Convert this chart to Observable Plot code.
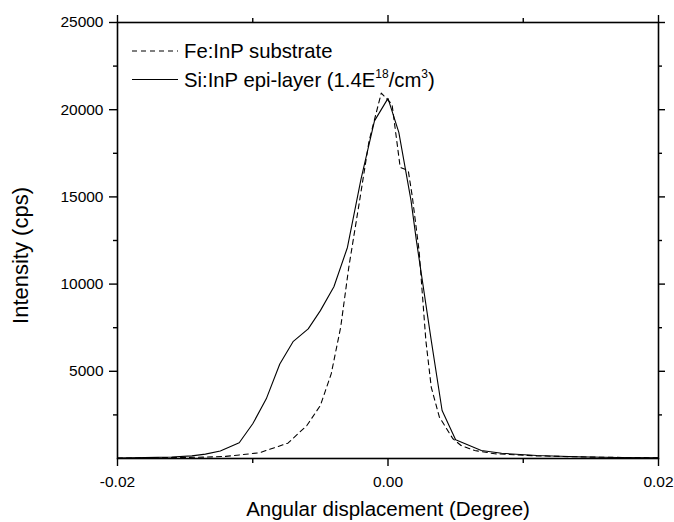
<!DOCTYPE html>
<html>
<head>
<meta charset="utf-8">
<script src="https://cdn.jsdelivr.net/npm/d3@7"></script>
<script src="https://cdn.jsdelivr.net/npm/@observablehq/plot@0.6"></script>
<style>
  html, body { margin: 0; padding: 0; background: #fff; }
  #chart svg { display: block; }
</style>
</head>
<body>
<div id="chart"></div>
<script>
// Fe:InP substrate (dashed)
const feX = [-0.020, -0.014, -0.012, -0.0095, -0.0074, -0.0060, -0.0050, -0.0042, -0.0035, -0.0029, -0.0021, -0.0014, -0.0005, 0.0003, 0.0009, 0.0015, 0.0018, 0.0023, 0.0028, 0.0032, 0.0038, 0.0048, 0.0054, 0.0064, 0.0079, 0.011, 0.015, 0.020];
const feY = [20, 70, 120, 330, 880, 1890, 3040, 4850, 7520, 10960, 14780, 18210, 20950, 20300, 16700, 16500, 15000, 11900, 6760, 4080, 2370, 1130, 745, 460, 270, 150, 80, 40];
// Si:InP epi-layer (solid)
const siX = [-0.020, -0.018, -0.016, -0.0145, -0.0135, -0.0124, -0.0110, -0.0100, -0.0090, -0.0080, -0.0070, -0.0059, -0.0050, -0.0040, -0.0030, -0.0020, -0.0010, 0.0000, 0.0008, 0.0017, 0.0021, 0.0032, 0.0040, 0.0050, 0.0069, 0.0084, 0.011, 0.014, 0.017, 0.020];
const siY = [30, 50, 90, 150, 250, 430, 900, 1990, 3420, 5420, 6720, 7430, 8480, 9850, 12100, 16000, 19360, 20650, 18700, 14800, 12490, 6760, 2750, 1070, 460, 300, 170, 100, 60, 40];

const seriesNames = ["Fe:InP substrate", "Si:InP epi-layer"];
const xTicksMajor = [-0.02, 0, 0.02];
const xTicksMinor = [-0.01, 0.01];
const yTicksMajor = [5000, 10000, 15000, 20000, 25000];
const yTicksMinor = [2500, 7500, 12500, 17500, 22500];
const xTitle = "Angular displacement (Degree)";
const yTitle = "Intensity (cps)";

const fe = feX.map((x, i) => ({x, y: feY[i]}));
const si = siX.map((x, i) => ({x, y: siY[i]}));

const FONT = "Arial, 'Liberation Sans', sans-serif";
const none = () => "";

const chart = Plot.plot({
  width: 674,
  height: 522,
  marginLeft: 117,
  marginRight: 16,
  marginTop: 22,
  marginBottom: 64,
  style: {fontFamily: FONT, color: "#000", background: "#fff", overflow: "visible"},
  x: {domain: [-0.02, 0.02]},
  y: {domain: [0, 25000]},
  marks: [
    Plot.line(fe, {x: "x", y: "y", stroke: "#000", strokeWidth: 1.1, strokeDasharray: "5,4"}),
    Plot.line(si, {x: "x", y: "y", stroke: "#000", strokeWidth: 1.1}),
    Plot.frame({stroke: "#000", strokeWidth: 1.6}),
    Plot.axisX(xTicksMajor, {anchor: "bottom", tickSize: 8, tickPadding: 9, tickFormat: d => d.toFixed(2), fontSize: 15.5, label: null, strokeWidth: 1.4}),
    Plot.axisX(xTicksMinor, {anchor: "bottom", tickSize: 5, tickFormat: none, label: null, strokeWidth: 1.4}),
    Plot.axisX(xTicksMajor, {anchor: "top", tickSize: 8, tickFormat: none, label: null, strokeWidth: 1.4}),
    Plot.axisX(xTicksMinor, {anchor: "top", tickSize: 5, tickFormat: none, label: null, strokeWidth: 1.4}),
    Plot.axisY(yTicksMajor, {anchor: "left", tickSize: 8, tickPadding: 6, tickFormat: d => String(d), fontSize: 15.5, label: null, strokeWidth: 1.4}),
    Plot.axisY(yTicksMinor, {anchor: "left", tickSize: 4, tickFormat: none, label: null, strokeWidth: 1.4}),
    Plot.axisY(yTicksMajor, {anchor: "right", tickSize: 6, tickFormat: none, label: null, strokeWidth: 1.4}),
    Plot.axisY(yTicksMinor, {anchor: "right", tickSize: 3, tickFormat: none, label: null, strokeWidth: 1.4}),
    Plot.text([xTitle], {frameAnchor: "bottom", textAnchor: "middle", lineAnchor: "middle", dy: 51, fontSize: 20.5, fill: "#000"}),
    Plot.text([yTitle], {frameAnchor: "left", textAnchor: "middle", lineAnchor: "middle", dx: -97, dy: 15, rotate: -90, fontSize: 22, fill: "#000"})
  ]
});

// Legend (top-left inside the frame)
const svg = d3.select(chart);
const lg = svg.append("g").attr("font-family", FONT).attr("font-size", 20.3)
  .attr("fill", "#000").attr("text-anchor", "start");
const rows = [{dash: "5,4"}, {dash: null}];
rows.forEach((r, i) => {
  const cy = 51 + i * 28.5;
  const ln = lg.append("line").attr("x1", 132).attr("x2", 178).attr("y1", cy).attr("y2", cy)
    .attr("stroke", "#000").attr("stroke-width", 1.1);
  if (r.dash) ln.attr("stroke-dasharray", r.dash);
});
lg.append("text").attr("x", 184).attr("y", 58).text(seriesNames[0]);
const t2 = lg.append("text").attr("x", 184).attr("y", 86.5);
t2.append("tspan").text(seriesNames[1] + " (1.4E");
t2.append("tspan").attr("font-size", 12).attr("dy", -9).text("18");
t2.append("tspan").attr("dy", 9).text("/cm");
t2.append("tspan").attr("font-size", 12).attr("dy", -9).text("3");
t2.append("tspan").attr("dy", 9).text(")");

document.getElementById("chart").appendChild(chart);
</script>
</body>
</html>
